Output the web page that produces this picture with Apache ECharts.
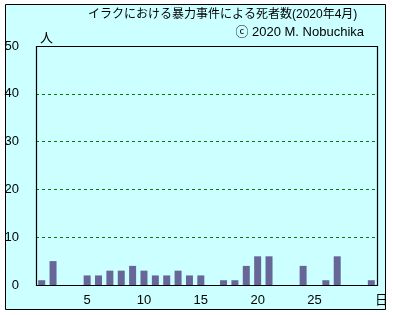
<!DOCTYPE html>
<html>
<head>
<meta charset="utf-8">
<script src="https://cdn.jsdelivr.net/npm/echarts@6/dist/echarts.min.js"></script>
<style>
  html, body { margin: 0; padding: 0; background: #fff; }
  #chart { width: 393px; height: 315px; }
</style>
</head>
<body>
<div id="chart"></div>
<script>
// Days of April 2020 and deaths per day
const days = ['1','2','3','4','5','6','7','8','9','10','11','12','13','14','15',
              '16','17','18','19','20','21','22','23','24','25','26','27','28','29','30'];
const deaths = [1, 5, 0, 0, 2, 2, 3, 3, 4, 3, 2, 2, 3, 2, 2,
                0, 1, 1, 4, 6, 6, 0, 0, 4, 0, 1, 6, 0, 0, 1];
const xTickLabels = ['5', '10', '15', '20', '25'];
const yTicks = [0, 10, 20, 30, 40, 50];

const titleText = 'イラクにおける暴力事件による死者数(2020年4月)';
const creditText = 'ⓒ 2020 M. Nobuchika';
const yUnit = '人';
const xUnit = '日';

const FONT = '"Liberation Sans", "Noto Sans CJK JP", sans-serif';

// plot area box in pixels
const PLOT = { left: 36, top: 46, right: 377, bottom: 285 };

const chart = echarts.init(document.getElementById('chart'), null, { renderer: 'canvas' });

chart.setOption({
  animation: false,
  backgroundColor: '#ffffff',
  textStyle: { fontFamily: FONT },
  graphic: [
    {
      type: 'rect',
      z: -10,
      shape: { x: 5.5, y: 4.5, width: 380, height: 305 },
      style: { fill: '#ccffff', stroke: '#000000', lineWidth: 1 }
    },
    {
      type: 'rect',
      z: 100,
      silent: true,
      shape: {
        x: PLOT.left + 0.5, y: PLOT.top + 0.5,
        width: PLOT.right - PLOT.left, height: PLOT.bottom - PLOT.top
      },
      style: { fill: 'none', stroke: '#000000', lineWidth: 1.2 }
    },
    {
      type: 'text',
      left: 40,
      top: 32,
      style: { text: yUnit, font: '13px ' + FONT, fill: '#000' }
    }
  ],
  title: [
    {
      text: titleText,
      left: 88,
      top: 9,
      padding: 0,
      textStyle: { fontSize: 12, fontWeight: 'normal', color: '#000', fontFamily: FONT }
    },
    {
      text: creditText,
      right: 29,
      top: 26,
      padding: 0,
      textStyle: { fontSize: 13, fontWeight: 'normal', color: '#000', fontFamily: FONT }
    }
  ],
  grid: {
    left: PLOT.left,
    right: 393 - PLOT.right,
    top: PLOT.top,
    bottom: 315 - PLOT.bottom,
    show: false,
    containLabel: false
  },
  xAxis: {
    type: 'category',
    data: days,
    name: xUnit,
    nameLocation: 'end',
    nameGap: -2,
    nameTextStyle: { fontSize: 13, color: '#000', verticalAlign: 'top', padding: [9, 0, 0, 0] },
    axisLine: { show: false },
    axisTick: { show: false },
    axisLabel: {
      interval: 0,
      fontSize: 13,
      color: '#000',
      margin: 9,
      formatter: v => (xTickLabels.indexOf(v) >= 0 ? v : '')
    },
    splitLine: { show: false }
  },
  yAxis: {
    type: 'value',
    min: yTicks[0],
    max: yTicks[yTicks.length - 1],
    interval: 10,
    axisLine: { show: false },
    axisTick: { show: false },
    axisLabel: { fontSize: 13, color: '#000', margin: 17 },
    splitLine: {
      show: true,
      showMinLine: false,
      showMaxLine: false,
      lineStyle: { color: '#008000', type: [3, 3], width: 1 }
    }
  },
  series: [
    {
      type: 'bar',
      data: deaths,
      barWidth: 7,
      itemStyle: { color: '#666699' }
    }
  ]
});
</script>
</body>
</html>
